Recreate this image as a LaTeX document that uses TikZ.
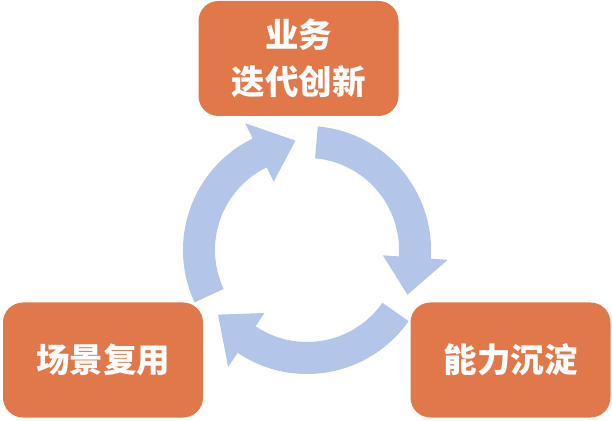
\documentclass[tikz,border=0pt]{standalone}
\usepackage{fontspec}
\usepackage{xcolor}
\usepackage{tikz}
\newfontfamily\cjk{Noto Sans CJK SC}
\definecolor{boxorange}{HTML}{E1784A}
\definecolor{cycblue}{HTML}{B3C5E9}

\begin{document}
\begin{tikzpicture}[
    x=1pt, y=1pt,
    box/.style={rectangle, rounded corners=20pt, fill=boxorange, text=white, font=\cjk\bfseries\fontsize{33.5}{47}\selectfont, align=center, minimum width=200pt, minimum height=115pt, inner sep=0pt},
    cyc/.style={fill=cycblue}
]
\useasboundingbox (0,0) rectangle (612,420);

% three arrows of the cycle: tail, head base, tip
\begin{scope}[shift={(307,170)}]
\foreach \tl/\bs/\tp in {205/116/96, 85/-4/-24, -35/-124/-144}
    \fill [cyc] (\tl:124) arc [start angle=\tl, end angle=\bs, radius=124]
        -- (\bs:141) -- (\tp:110) -- (\bs:76) -- (\bs:92)
        arc [start angle=\bs, end angle=\tl, radius=92] -- cycle;
\end{scope}

\node [box] (biz) at (298.5,361.5) {业务\\迭代创新};
\node [box] (reuse) at (103,60) {场景复用};
\node [box] (ability) at (510.5,60) {能力沉淀};
\end{tikzpicture}
\end{document}
